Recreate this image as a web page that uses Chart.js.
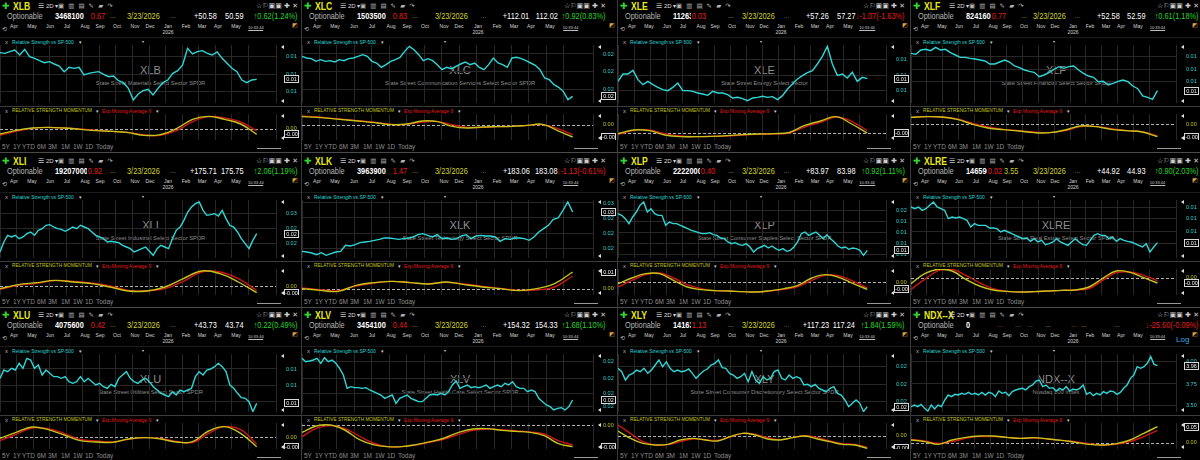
<!DOCTYPE html>
<html>
<head>
<meta charset="utf-8">
<script src="https://cdn.jsdelivr.net/npm/chart.js@4.4.1/dist/chart.umd.min.js"></script>
<style>
  html, body { margin: 0; padding: 0; background: #000; }
  body { width: 1200px; height: 460px; overflow: hidden; position: relative;
         font-family: "Liberation Sans", Arial, sans-serif; }
  .panel { position: absolute; overflow: hidden; background: #000; }
  .t { position: absolute; white-space: nowrap; line-height: 1; }
  .ln { position: absolute; height: 1px; }
  canvas { position: absolute; }
</style>
</head>
<body>
<script>
// ---- panel info ----
const symbols = ['XLB', 'XLC', 'XLE', 'XLF', 'XLI', 'XLK', 'XLP', 'XLRE', 'XLU', 'XLV', 'XLY', 'NDX--X'];
const descriptions = [
  'State Street Materials Select Sector SPDR',
  'State Street Communication Services Select Sector SPDR',
  'State Street Energy Select Sector',
  'State Street Financial Select Sector SPDR',
  'State Street Industrial Select Sector SPDR',
  'State Street Technology Select Sector SPDR',
  'State Street Consumer Staples Select Sector SPDR',
  'State Street Real Estate Select Sector SPDR',
  'State Street Utilities Select Sector SPDR',
  'State Street Health Care Select Sector SPDR',
  'State Street Consumer Discretionary Select Sector SPDR',
  'Nasdaq 100 Index'
];
const volumes = ['3468100', '1503500', '11263900', '8241600', '19207000', '3963900', '22220000', '14659000', '4075600', '3454100', '14163000', '0'];
const redVals = ['0.67', '0.83', '0.03', '0.77', '0.92', '1.47', '0.40', '0.02', '0.42', '0.44', '1.13', ''];
const bids = ['+50.58', '+112.01', '+57.26', '+52.58', '+175.71', '+183.06', '+83.97', '+44.92', '+43.73', '+154.32', '+117.23', ''];
const asks = ['50.59', '112.02', '57.27', '52.59', '175.75', '183.08', '83.98', '44.93', '43.74', '154.33', '117.24', ''];
const changes = ['↑0.62(1.24%)', '↑0.92(0.83%)', '↓-1.07(-1.63%)', '↑0.61(1.18%)', '↑2.06(1.19%)', '↓-1.13(-0.61%)',
                 '↑0.92(1.11%)', '↑0.90(2.03%)', '↑0.22(0.49%)', '↑1.68(1.10%)', '↑1.84(1.59%)', '↓-25.60(-0.09%)'];
const quoteDate = '3/23/2026';
const months = ['Apr', 'May', 'Jun', 'Jul', 'Aug', 'Sep', 'Oct', 'Nov', 'Dec', 'Jan', 'Feb', 'Mar', 'Apr', 'May'];
const ranges = ['5Y', '1Y', 'YTD', '6M', '3M', '1M', '1W', '1D', 'Today'];

// ---- relative strength vs SP-500 (chart units, 0 = bottom of pane) ----
const rsXLB = [151,149,154,159,144,161,139,134,127,121,124,117,111,94,107,104,107,84,89,92,94,86,79,81,67,61,44,9,27,37,41,24,44,61,69,89,97,114,164,147,154,157,149,144,153,134,119,104,94,69,61,69,71];
const rsXLC = [140,135,133,125,130,125,127,123,130,127,133,135,140,145,140,125,120,107,115,125,130,137,155,170,160,145,127,133,127,115,100,107,103,110,117,123,115,120,107,100,115,135,120,115,107,135,137,133,127,120,113,100,75,70,55,47,35,10,20];
const rsXLE = [65,87,87,98,70,55,65,55,47,40,37,47,60,37,37,35,30,27,23,35,30,30,25,15,17,13,7,15,17,20,17,19,10,22,42,57,72,82,91,97,117,140,170,117,83,87,75,92,65,77,73];
const rsXLF = [149,146,159,161,157,167,159,161,151,144,137,137,134,132,129,126,117,117,123,129,123,111,106,99,95,92,79,84,91,101,109,104,109,111,99,89,81,77,64,65,54,59,65,69,64,51,43,21,17,11,37];
const rsXLI = [18,48,68,63,68,58,63,73,78,68,83,88,98,100,93,88,86,80,86,93,88,98,93,88,78,68,63,58,48,50,48,46,38,33,28,18,23,28,33,20,8,28,38,33,28,58,83,93,113,138,153,163,168,143,128,130,133,126,143,118,98,93,78,58,43,28,53,73];
const rsXLK = [20,18,15,10,16,8,13,18,20,38,36,40,46,48,50,53,56,60,60,58,56,58,60,63,70,73,68,63,70,58,60,56,58,66,70,58,66,68,66,66,63,50,58,56,60,60,58,53,63,78,88,98,116,120,143,168,138];
const rsXLP = [133,128,118,103,123,138,158,168,138,148,133,128,128,98,108,103,103,98,93,88,83,80,76,73,73,76,70,68,60,58,48,43,46,40,38,43,33,18,28,33,38,30,36,28,23,28,20,23,33,48,73,78,68,73,78,68,58,70,58,48,36,30,33,26,30,28,23,8,23];
const rsXLRE = [153,148,153,143,148,158,168,153,148,143,118,123,120,123,118,113,93,103,98,98,98,90,90,88,78,83,78,73,68,63,58,60,50,58,48,53,40,43,48,58,48,43,38,48,58,48,40,38,53,68,73,68,68,58,63,50,58,53,50,48,43,38,33,43,18,33,46];
const rsXLU = [101,126,121,131,126,146,131,161,156,131,141,111,126,116,106,106,101,106,91,86,91,106,91,101,91,81,86,76,71,83,76,101,111,121,101,91,86,96,101,91,76,66,56,51,46,61,51,66,61,66,71,106,121,111,126,129,136,146,136,121,81,71,56,43,41,31,1,26];
const rsXLV = [161,151,153,156,161,146,163,151,156,146,131,111,71,76,73,73,71,73,66,61,56,51,41,46,51,26,41,46,51,41,36,31,31,41,51,53,51,56,51,61,81,93,71,76,81,73,76,73,76,81,71,76,81,76,86,81,91,76,71,71,61,66,61,41,31,21,16,6,11,13,6,16,36];
const rsXLY = [131,121,96,111,116,126,121,131,116,126,141,156,136,151,131,121,126,121,123,129,116,101,113,123,129,141,146,156,133,131,116,111,101,106,116,91,121,96,86,106,96,101,121,126,101,96,111,101,106,101,81,83,76,83,71,66,61,71,76,56,51,36,16,26,36,26,1,16];
const rsNDX = [16,21,16,23,11,3,21,9,21,16,36,51,46,53,51,56,53,59,53,56,51,59,51,59,56,46,63,56,59,49,61,66,69,71,66,76,81,93,96,76,81,71,73,63,71,66,76,63,69,66,71,81,53,59,49,56,51,61,56,63,61,53,59,71,81,101,111,136,131,136,146,166,143,139];

// axis labels of the RS pane (position in chart units, text)
const rsTickPos = [[139,86,34],[147,95,42],[130,83,37],[139,102,64],[133,88,43],[165,120,75,30],
                   [143,110,78,43,10],[153,118,80,43],[129,81,31],[151,101,56,16],[136,83,31],[151,84,19]];
const rsTickText = [['0.01','0.01','0.01'],['0.02','0.02','0.02'],['0.01','0.01','0.01'],['0.01','0.01','0.01'],
                    ['0.03','0.02','0.02'],['0.03','0.02','0.02','0.02'],['0.02','0.01','0.01','0.01','0.01'],
                    ['0.01','0.01','0.01','0.01'],['0.01','0.01','0.01'],['0.02','0.02','0.02','0.02'],
                    ['0.02','0.02','0.02'],['4.00','3.75','3.50']];
const rsLastText = ['0.01','0.02','0.01','0.01','0.02','0.03','0.01','0.01','0.01','0.02','0.02','3.96'];

// ---- relative strength momentum and its 9-period EMA ----
const momXLB = [-16,-5,2,4,2,-2,-6,-8,-12,-20,-18,0,28,37,28,14,-17];
const emaXLB = [-20,-8,1,4,2,-1,-5,-8,-11,-19,-20,-6,21,36,32,20,-6];
const momXLC = [24,22,18,14,10,5,0,2,11,9,-5,-10,-7,-6,-5,-2,1,-18,-37];
const emaXLC = [26,23,19,15,11,6,1,1,8,10,0,-8,-8,-6,-5,-2,0,-12,-30];
const momXLE = [-2,9,7,-6,-11,-11,-10,-8,-5,-3,-2,2,23,36,49,27,0];
const emaXLE = [-5,8,9,-2,-9,-11,-10,-9,-6,-4,-3,0,18,32,48,35,7];
const momXLF = [21,23,22,15,0,-11,-16,-20,-25,-25,-17,-5,-7,-15,-19,-23,-37];
const emaXLF = [21,23,22,16,3,-8,-15,-19,-23,-25,-19,-7,-6,-13,-19,-22,-34];
const momXLI = [-7,5,11,18,13,8,-2,-14,-14,-2,23,46,38,13,-19];
const emaXLI = [-9,3,9,17,15,10,1,-12,-14,-7,15,43,43,23,-12];
const momXLK = [0,-5,-8,10,18,22,18,14,20,12,5,0,-6,0,15,50];
const emaXLK = [2,-3,-6,8,17,22,18,15,19,14,7,1,-5,-4,5,38];
const momXLP = [-5,12,25,25,5,-15,-23,-26,-27,-29,-30,-26,-20,-10,12,22,13,-5,-22];
const emaXLP = [-15,5,22,27,12,-8,-20,-26,-27,-29,-30,-27,-22,-14,5,20,18,2,-18];
const momXLRE = [-18,12,25,20,-5,-25,-37,-41,-43,-42,-40,-38,-37,-28,-2,20,16,0,-16];
const emaXLRE = [-35,-5,21,25,7,-15,-33,-41,-43,-42,-40,-38,-37,-33,-8,15,17,7,-9];
const momXLU = [-3,15,31,23,7,-10,-14,-15,-5,-1,-5,-14,-13,19,32,12,-28];
const emaXLU = [-10,9,28,26,12,-6,-11,-14,-6,-1,-3,-12,-16,12,32,23,-20];
const momXLV = [-22,-3,0,-15,-43,-59,-65,-65,-59,-50,-39,-22,-12,-11,-16,-19,-22,-32,-56,-65];
const emaXLV = [-35,-10,-2,-10,-33,-54,-65,-65,-60,-52,-42,-28,-16,-12,-14,-17,-21,-27,-47,-60];
const momXLY = [14,-8,-23,-28,-26,-13,-8,-13,-16,-3,7,2,-10,-13,-6,-1,-10,-18,-26,-28,-38];
const emaXLY = [32,7,-18,-28,-27,-18,-10,-12,-14,-4,7,4,-6,-12,-6,0,-6,-16,-24,-26,-35];
const momNDX = [8,3,-5,8,16,20,20,16,13,15,11,7,1,-5,-7,-3,8,28,48];
const emaNDX = [10,5,-2,3,13,18,18,16,13,14,11,7,3,-3,-7,-5,3,18,37];

const momRange = [[-34,44],[-46,32],[-21,57],[-47,31],[-26,52],[-19,59],[-39,39],[-52,26],[-35,43],[-72,6],[-40,38],[-19,59]];
const momLastText = ['-0.00','-0.00','-0.00','-0.00','-0.00','0.01','-0.00','-0.00','-0.00','-0.00','-0.00','0.05'];

const rsData = [rsXLB, rsXLC, rsXLE, rsXLF, rsXLI, rsXLK, rsXLP, rsXLRE, rsXLU, rsXLV, rsXLY, rsNDX];
const momData = [momXLB, momXLC, momXLE, momXLF, momXLI, momXLK, momXLP, momXLRE, momXLU, momXLV, momXLY, momNDX];
const emaData = [emaXLB, emaXLC, emaXLE, emaXLF, emaXLI, emaXLK, emaXLP, emaXLRE, emaXLU, emaXLV, emaXLY, emaNDX];

// ---- layout ----
const colX = [0, 301, 617, 910];
const colW = [301, 316, 293, 290];
const rowY = [0, 155, 309];
const rowH = [155, 154, 151];
const rightEdge = [298, 304, 287, 288];
const redX = [90, 90, 73, 80, 87, 90, 82, 76, 90, 90, 73, 0];
const monthPos = [0.047, 0.106, 0.166, 0.223, 0.282, 0.332, 0.389, 0.449, 0.498, 0.558, 0.618, 0.671, 0.724, 0.784];
const rangePos = [2, 13, 22, 37, 48, 61, 73, 85, 96];
const SPAN = 93;        // share of the plot width covered by the data
const NARROW = 0.82;    // the terminal font is a condensed face
const GRID = '#282828';
const CYAN = '#30d6d6';
const YEL = '#c4c41c';
const RED = '#cc1414';

function put(par, s, x, y, size, color, align, extra, sx) {
  const d = document.createElement('div');
  d.className = 't';
  d.textContent = s;
  d.style.top = (y - size * 0.5) + 'px';
  d.style.fontSize = size + 'px';
  d.style.color = color;
  const scale = sx ? ` scaleX(${sx})` : '';
  if (align === 'r') {
    d.style.right = (par._w - x) + 'px';
    d.style.transformOrigin = 'right center';
    if (sx) d.style.transform = scale;
  } else if (align === 'c') {
    d.style.left = x + 'px';
    d.style.transform = 'translateX(-50%)' + scale;
  } else {
    d.style.left = x + 'px';
    d.style.transformOrigin = 'left center';
    if (sx) d.style.transform = scale;
  }
  if (extra) Object.assign(d.style, extra);
  par.appendChild(d);
  return d;
}

function hline(par, y, x1, x2, color) {
  const d = document.createElement('div');
  d.className = 'ln';
  d.style.cssText += `left:${x1}px;width:${x2 - x1}px;top:${y}px;background:${color}`;
  par.appendChild(d);
}

function sidePlugin(lastText, isMom) {
  return {
    id: 'side',
    beforeDatasetsDraw(chart) {
      if (!isMom) return;
      const { ctx, chartArea: a, scales } = chart;
      const y0 = Math.round(scales.y.getPixelForValue(0)) + 0.5;
      ctx.save();
      ctx.strokeStyle = '#b0b0b0';
      ctx.lineWidth = 1;
      ctx.setLineDash([3, 2]);
      ctx.beginPath(); ctx.moveTo(a.left, y0); ctx.lineTo(a.right, y0); ctx.stroke();
      ctx.restore();
    },
    afterDraw(chart) {
      const { ctx, chartArea: a } = chart;
      ctx.save();
      ctx.fillStyle = '#e0e0e0';
      [a.top + 2, a.bottom - 2].forEach(y => {
        ctx.beginPath(); ctx.moveTo(a.right + 5, y); ctx.lineTo(a.right + 8, y - 2); ctx.lineTo(a.right + 8, y + 2); ctx.fill();
      });
      const pts = chart.getDatasetMeta(0).data;
      const y = pts[pts.length - 1].y;
      const bx = a.right + 8, bw = 15, bh = 8;
      ctx.fillStyle = '#000';
      ctx.fillRect(bx, y - bh / 2, bw, bh);
      ctx.strokeStyle = '#d8d8d8';
      ctx.lineWidth = 1;
      ctx.strokeRect(bx + 0.5, Math.round(y - bh / 2) + 0.5, bw - 1, bh - 1);
      ctx.fillStyle = '#f0f0f0';
      ctx.font = '5.5px "Liberation Sans"';
      ctx.textAlign = 'center';
      ctx.textBaseline = 'middle';
      ctx.fillText(lastText, bx + bw / 2, Math.round(y) + 0.5);
      ctx.restore();
    }
  };
}

function xy(arr) {
  return arr.map((v, i) => ({ x: i / (arr.length - 1) * SPAN, y: v }));
}

function makeChart(par, k, top, h, datasets, yMin, yMax, ticks, tickText, tickColor, lastText, isMom) {
  const W = par._w;
  const cv = document.createElement('canvas');
  cv.width = W; cv.height = h;
  cv.style.left = '0px'; cv.style.top = top + 'px';
  cv.style.width = W + 'px'; cv.style.height = h + 'px';
  par.appendChild(cv);
  new Chart(cv, {
    type: 'line',
    data: { datasets },
    options: {
      responsive: false, animation: false, events: [],
      layout: { padding: 0 },
      plugins: { legend: { display: false }, tooltip: { enabled: false } },
      scales: {
        x: {
          type: 'linear', min: 0, max: 100,
          ticks: { display: false, stepSize: 6 },
          grid: { color: GRID, drawTicks: false },
          border: { display: false }
        },
        y: {
          position: 'right', min: yMin, max: yMax,
          afterBuildTicks: s => { s.ticks = ticks.map(v => ({ value: v })); },
          afterFit: s => { s.width = 25; s.paddingTop = 0; s.paddingBottom = 0; },
          ticks: {
            padding: 10, color: tickColor,
            font: { size: 5.5, family: '"Liberation Sans", Arial' },
            callback: (v, i) => tickText[i]
          },
          grid: { color: isMom ? 'rgba(0,0,0,0)' : GRID, drawTicks: false },
          border: { display: false }
        }
      }
    },
    plugins: [sidePlugin(lastText, isMom)]
  });
}

function buildPanel(k) {
  const col = k % 4, row = Math.floor(k / 4);
  const W = colW[col], R = rightEdge[col];
  const p = document.createElement('div');
  p.className = 'panel';
  p._w = W;
  p.style.left = colX[col] + 'px';
  p.style.top = rowY[row] + 'px';
  p.style.width = W + 'px';
  p.style.height = rowH[row] + 'px';
  if (col > 0) p.style.borderLeft = '1px solid #3a3a3a';
  document.body.appendChild(p);

  // title row
  put(p, '✚', 2, 6, 9, '#35d435', 'l', { fontWeight: 'bold', fontFamily: '"DejaVu Sans"' });
  put(p, symbols[k], 13, 6, 10.5, '#e8e81a', 'l', { fontWeight: 'bold' }, NARROW);
  put(p, '☰', 38, 6, 7, '#c8c8c8', 'l', { fontFamily: '"DejaVu Sans"' });
  put(p, '2D ▾', 46, 6, 6, '#dcdcdc', 'l');
  put(p, '▣ ▥ ▤ ✎ ▰ ↷', 58, 6, 6.5, '#b4b4b4', 'l', { fontFamily: '"DejaVu Sans"', letterSpacing: '1px' });
  put(p, '☆⚐▣▣ ✚ ✕', R, 6, 7, '#d0d0d0', 'r', { fontFamily: '"DejaVu Sans"' });

  // quote row
  put(p, 'Optionable', 7, 16, 9, '#b4b4b4', 'l', null, NARROW);
  put(p, volumes[k], 55, 16, 9, '#ffffff', 'l', { fontWeight: 'bold' }, NARROW);
  if (redVals[k]) put(p, redVals[k], redX[k], 16, 9, '#e51c1c', 'l', { background: '#000', paddingLeft: '1px', paddingRight: '1px' }, NARROW);
  if (k < 11) {
    if (k === 7) put(p, '3.55', 93, 16, 9, '#c8c828', 'l', null, NARROW);
    else put(p, '...', 110, 15, 7, '#a8a820');
    put(p, quoteDate, 0.422 * W, 16, 9, '#d2d22a', 'l', null, NARROW);
    put(p, '...', 0.565 * W, 15, 7, '#38b038');
    put(p, bids[k], 0.72 * W, 16, 9, '#ffffff', 'r', null, NARROW);
    put(p, asks[k], 0.81 * W, 16, 9, '#ffffff', 'r', null, NARROW);
  } else {
    [['...', 86, '#c83232'], ['...', 104, '#38b038'], ['...', 116, '#a040c0'], ['...', 134, '#a0a0a0'],
     ['...', 160, '#c83232'], ['...', 170, '#a8a820'], ['...', 203, '#38b038']].forEach(d => put(p, d[0], d[1], 15, 7, d[2]));
  }
  const up = changes[k].startsWith('↑');
  put(p, changes[k], R, 16, 9, up ? '#28d428' : '#e51c1c', 'r', null, NARROW);

  // month axis row
  put(p, '⟲', 2, 29, 6, '#bbbbbb', 'l', { fontFamily: '"DejaVu Sans"' });
  months.forEach((m, i) => put(p, m, monthPos[i] * W, 27, 5.6, '#d4d4d4', 'c', null, 0.9));
  put(p, '2026', monthPos[9] * W, 32.5, 5.6, '#d4d4d4', 'c', null, 0.9);
  put(p, '10:33:44', 0.85 * W, 28, 4, '#cfcfcf', 'c', { borderBottom: '1px solid #bbb' });
  if (k === 11) put(p, 'Log', W - 25, 31, 8, '#3aa8e0', 'l');
  put(p, '◩', W - 9, 25, 6, '#d8a040', 'l', { fontFamily: '"DejaVu Sans"' });
  hline(p, 37, 0, W, '#1c1c1c');

  // watermark (behind the line)
  put(p, symbols[k], W / 2, 70, 11, '#8e8e8e', 'c');
  put(p, descriptions[k], W / 2, 84, 5.8, '#8e8e8e', 'c');

  // relative strength pane
  put(p, 'x', 5, 42, 6, '#b0b0b0', 'l');
  put(p, 'Relative Strength vs SP-500', 12, 42, 6, CYAN, 'l', null, NARROW);
  put(p, '▾', 79, 42, 5, '#d0d0d0', 'l', { fontFamily: '"DejaVu Sans"' });
  put(p, '▾', 142, 42, 4, '#d0d0d0', 'l', { fontFamily: '"DejaVu Sans"' });
  makeChart(p, k, 45, 58,
    [{ data: xy(rsData[k]), borderColor: CYAN, borderWidth: 1.4, pointRadius: 0, tension: 0 }],
    0, 174, rsTickPos[k], rsTickText[k], CYAN, rsLastText[k], false);
  hline(p, 106, 0, W, '#3c3c3c');

  // momentum pane
  put(p, 'x', 5, 111, 6, '#b0b0b0', 'l');
  put(p, 'RELATIVE STRENGTH MOMENTUM', 12, 111, 5.8, YEL, 'l', null, NARROW);
  put(p, '▾', 96, 111, 5, '#d0d0d0', 'l', { fontFamily: '"DejaVu Sans"' });
  put(p, 'Exp Moving Average 9', 102, 111, 6, '#e51c1c', 'l', null, NARROW);
  put(p, '▾', 156, 111, 5, '#d0d0d0', 'l', { fontFamily: '"DejaVu Sans"' });
  makeChart(p, k, 114, 26,
    [{ data: xy(momData[k]), borderColor: YEL, borderWidth: 1.4, pointRadius: 0, tension: 0.4 },
     { data: xy(emaData[k]), borderColor: RED, borderWidth: 1.4, pointRadius: 0, tension: 0.4 }],
    momRange[k][0], momRange[k][1], [0], ['0.00'], YEL, momLastText[k], true);

  // range buttons
  ranges.forEach((r, i) => put(p, r, rangePos[i], 147, 6.5, '#8c8c8c', 'l'));
  hline(p, 148, W - 44, W - 20, '#9a9a9a');
  hline(p, 152, 0, W, '#4a4a4a');
}

for (let k = 0; k < 12; k++) buildPanel(k);
</script>
</body>
</html>
